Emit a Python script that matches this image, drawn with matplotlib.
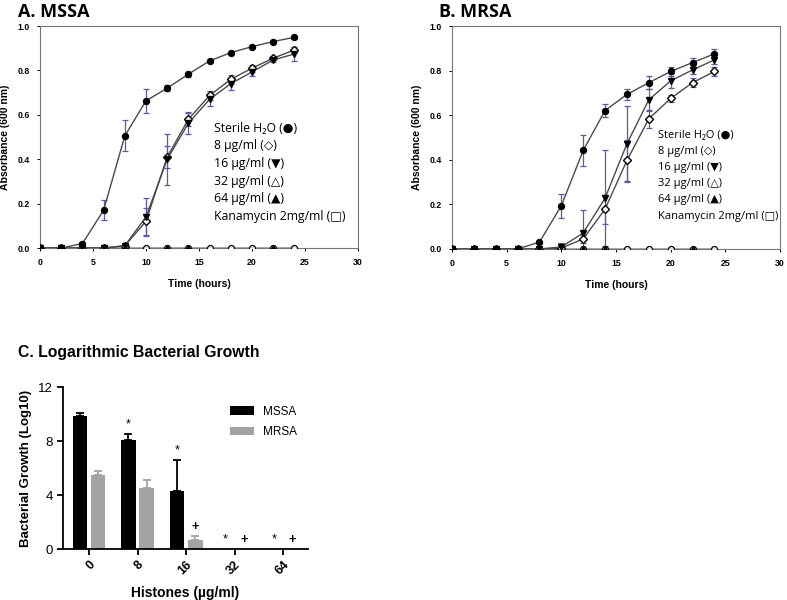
import matplotlib
matplotlib.use("Agg")
import matplotlib.pyplot as plt
import numpy as np

# ---------------- Data ----------------
time_h = [0, 2, 4, 6, 8, 10, 12, 14, 16, 18, 20, 22, 24]

# Panel A: MSSA
a_h2o = [0, 0, 0.02, 0.17, 0.505, 0.663, 0.72, 0.783, 0.843, 0.88, 0.907, 0.93, 0.949]
a_h2o_err = [0, 0, 0.005, 0.045, 0.07, 0.053, 0.012, 0.012, 0.006, 0.006, 0.006, 0.006, 0.006]
a_8 = [0, 0, 0, 0, 0.01, 0.12, 0.41, 0.58, 0.687, 0.76, 0.81, 0.855, 0.892]
a_8_err = [0, 0, 0, 0, 0.005, 0.06, 0.05, 0.03, 0.02, 0.02, 0.015, 0.008, 0.012]
a_16 = [0, 0, 0, 0, 0.01, 0.14, 0.40, 0.562, 0.67, 0.74, 0.793, 0.847, 0.874]
a_16_err = [0, 0, 0, 0, 0.005, 0.085, 0.115, 0.05, 0.03, 0.03, 0.02, 0.01, 0.03]
a_32 = [0] * 13
a_64 = [0] * 13
a_kan = [0] * 13

# Panel B: MRSA
b_h2o = [0, 0, 0, 0, 0.031, 0.194, 0.442, 0.621, 0.693, 0.746, 0.796, 0.836, 0.875]
b_h2o_err = [0, 0, 0, 0, 0.005, 0.054, 0.07, 0.03, 0.025, 0.03, 0.02, 0.02, 0.02]
b_8 = [0, 0, 0, 0, 0, 0.004, 0.045, 0.179, 0.397, 0.584, 0.675, 0.746, 0.796]
b_8_err = [0, 0, 0, 0, 0, 0.005, 0.02, 0.065, 0.09, 0.04, 0.015, 0.02, 0.02]
b_16 = [0, 0, 0, 0, 0, 0.009, 0.072, 0.228, 0.472, 0.669, 0.754, 0.803, 0.848]
b_16_err = [0, 0, 0, 0, 0, 0.02, 0.105, 0.215, 0.17, 0.05, 0.03, 0.02, 0.02]
b_32 = [0] * 13
b_64 = [0] * 13
b_kan = [0] * 13

legend_lines = ["Sterile H\u2082O (\u25CF)", "8 \u00b5g/ml (\u25C7)", "16 \u00b5g/ml (\u25BC)",
                "32 \u00b5g/ml (\u25B3)", "64 \u00b5g/ml (\u25B2)", "Kanamycin 2mg/ml (\u25A1)"]

# Panel C
histone_labels = ["0", "8", "16", "32", "64"]
mssa_log = [9.85, 8.05, 4.3, 0, 0]
mssa_err = [0.2, 0.45, 2.3, 0, 0]
mrsa_log = [5.5, 4.5, 0.7, 0, 0]
mrsa_err = [0.3, 0.6, 0.25, 0, 0]
mssa_sig = ["", "*", "*", "*", "*"]
mrsa_sig = ["", "", "+", "+", "+"]

# ---------------- Figure ----------------
W, H = 787, 600
fig = plt.figure(figsize=(W / 100, H / 100), dpi=100)

line_col = "#4a4a4a"
err_col = "#5a5aaa"
tick_font = dict(fontsize=6.3, fontweight="bold", family="Liberation Sans")


def growth_panel(ax, h2o, h2o_e, s8, s8_e, s16, s16_e, s32, s64, kan, leg_xy, leg_dy, leg_fs):
    t = np.array(time_h)
    ms = 4.3
    kw = dict(color=line_col, lw=1.0, zorder=3)
    ekw = dict(ecolor=err_col, elinewidth=0.9, capsize=2.5, capthick=0.9, fmt="none", zorder=2)
    # zero-line series
    ax.plot(t, s32, marker="^", mfc="white", mec="black", ms=ms, **kw)
    ax.plot(t, kan, marker="o", mfc="white", mec="black", ms=ms, mew=0.9, **kw)
    ax.plot(t, s64, marker="^", mfc="black", mec="black", ms=ms, markevery=[6, 7, 11], **kw)
    # growing series
    ax.errorbar(t, s8, yerr=s8_e, **ekw)
    ax.errorbar(t, s16, yerr=s16_e, **ekw)
    ax.errorbar(t, h2o, yerr=h2o_e, **ekw)
    ax.plot(t, s8, marker="D", mfc="white", mec="black", ms=3.6, **kw)
    ax.plot(t, s16, marker="v", mfc="black", mec="black", ms=ms, **kw)
    ax.plot(t, h2o, marker="o", mfc="black", mec="black", ms=ms, **kw)

    ax.set_xlim(0, 30)
    ax.set_ylim(0, 1.0)
    ax.set_xticks(range(0, 31, 5))
    ax.set_yticks(np.arange(0, 1.01, 0.2))
    ax.set_yticklabels([f"{v:.1f}" for v in np.arange(0, 1.01, 0.2)], **tick_font)
    ax.set_xticklabels([str(v) for v in range(0, 31, 5)], **tick_font)
    ax.tick_params(length=2.5, width=0.7, pad=5)
    for s in ax.spines.values():
        s.set_color("#777777")
        s.set_linewidth(0.8)
    ax.set_xlabel("Time (hours)", fontsize=7.5, fontweight="bold", family="Liberation Sans", labelpad=8)
    ax.set_ylabel("Absorbance (600 nm)", fontsize=7.5, fontweight="bold", family="Liberation Sans", labelpad=5)
    for i, txt in enumerate(legend_lines):
        ax.text(leg_xy[0], leg_xy[1] - i * leg_dy, txt, fontsize=leg_fs,
                family=["Open Sans", "DejaVu Sans"], va="center", ha="left")


axA = fig.add_axes([40 / W, 1 - 248 / H, 318 / W, 222 / H])
growth_panel(axA, a_h2o, a_h2o_err, a_8, a_8_err, a_16, a_16_err, a_32, a_64, a_kan,
             (16.4, 0.54), 0.0795, 8.8)
fig.text(18 / W, 1 - 12 / H, "A. MSSA", fontsize=13, fontweight="bold", family="Open Sans",
         va="center", ha="left")

axB = fig.add_axes([452 / W, 1 - 249 / H, 328 / W, 223 / H])
growth_panel(axB, b_h2o, b_h2o_err, b_8, b_8_err, b_16, b_16_err, b_32, b_64, b_kan,
             (18.8, 0.51), 0.0725, 8.0)
fig.text(439 / W, 1 - 12 / H, "B. MRSA", fontsize=13, fontweight="bold", family="Open Sans",
         va="center", ha="left")

# Panel C
axC = fig.add_axes([63 / W, 1 - 549 / H, 245 / W, 162 / H])
x = np.arange(len(histone_labels))
w = 0.30
off = 0.19
axC.bar(x - off, mssa_log, w, color="black", label="MSSA", zorder=2)
axC.bar(x + off, mrsa_log, w, color="#a3a3a3", label="MRSA", zorder=2)
for xi, v, e in zip(x, mssa_log, mssa_err):
    if e > 0:
        axC.errorbar(xi - off, v, yerr=[[0], [e]], ecolor="black", elinewidth=1.3, capsize=3, capthick=1.3, fmt="none")
for xi, v, e in zip(x, mrsa_log, mrsa_err):
    if e > 0:
        axC.errorbar(xi + off, v, yerr=[[0], [e]], ecolor="#a3a3a3", elinewidth=1.3, capsize=3, capthick=1.3, fmt="none")
for xi, v, e, s in zip(x, mssa_log, mssa_err, mssa_sig):
    if s:
        axC.text(xi - off, v + e + 0.25, s, ha="center", va="bottom", fontsize=9, family="Liberation Sans")
for xi, v, e, s in zip(x, mrsa_log, mrsa_err, mrsa_sig):
    if s:
        axC.text(xi + off, v + e + 0.25, s, ha="center", va="bottom", fontsize=9,
                 fontweight="bold", family="Liberation Sans")
axC.set_xlim(-0.536, 4.515)
axC.set_ylim(0, 12)
axC.set_yticks([0, 4, 8, 12])
axC.set_yticklabels(["0", "4", "8", "12"], fontsize=9.5, family="Liberation Sans")
axC.set_xticks(x)
axC.set_xticklabels(histone_labels, rotation=45, rotation_mode="anchor", ha="right", va="top",
                    fontsize=9, fontweight="bold", family="Liberation Sans")
axC.tick_params(axis="both", length=4, width=1.3, direction="out")
axC.tick_params(axis="x", pad=3)
for s in ["top", "right"]:
    axC.spines[s].set_visible(False)
for s in ["left", "bottom"]:
    axC.spines[s].set_linewidth(1.3)
axC.set_ylabel("Bacterial Growth (Log10)", fontsize=9.5, fontweight="bold", family="Liberation Sans", labelpad=4)
axC.set_xlabel("Histones (\u00b5g/ml)", fontsize=10, fontweight="bold", family="Liberation Sans", labelpad=6)
axC.legend(loc="upper left", bbox_to_anchor=(0.64, 0.95), frameon=False,
           handlelength=2.0, handleheight=0.7, handletextpad=0.8, labelspacing=0.7,
           prop={"family": "Liberation Sans", "size": 8.5})
fig.text(18 / W, 1 - 353 / H, "C. Logarithmic Bacterial Growth", fontsize=11.3, fontweight="bold",
         family="Liberation Sans", va="center", ha="left")

fig.savefig("out.png", dpi=100, facecolor="white")
